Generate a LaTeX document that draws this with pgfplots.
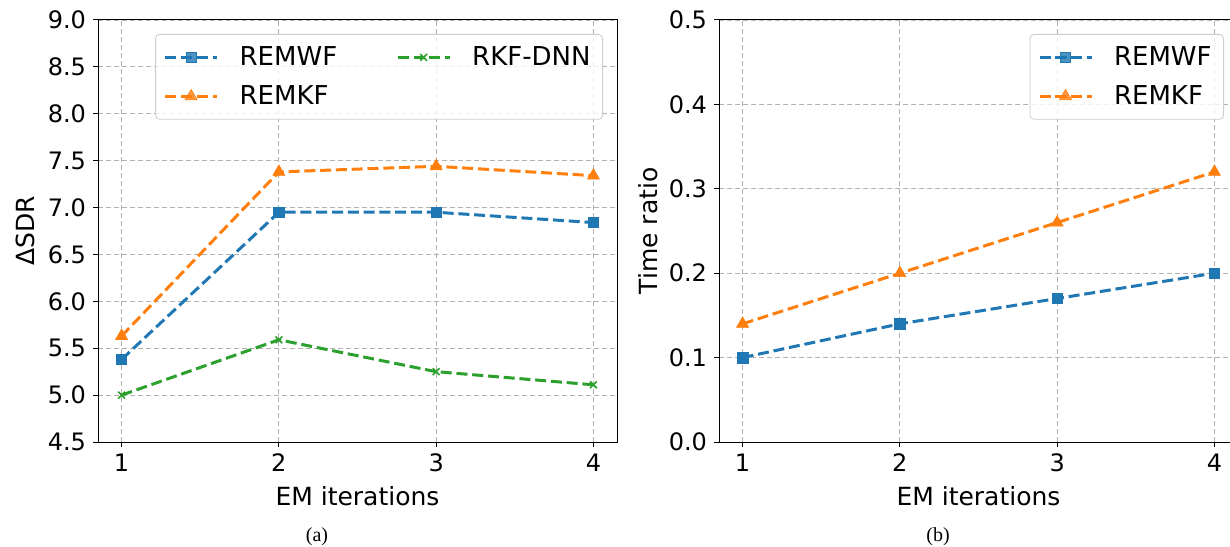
\documentclass[border=0pt]{standalone}
\usepackage{fontspec}
\setmainfont{DejaVu Sans}
\newfontfamily\capfont{Liberation Serif}
\usepackage{pgfplots}
\pgfplotsset{compat=1.18}
\definecolor{c0}{HTML}{1F77B4}
\definecolor{c1}{HTML}{FF7F0E}
\definecolor{c2}{HTML}{2CA02C}
\pgfplotsset{
  myaxis/.style={
    scale only axis, width=259.5pt, height=211pt,
    xmin=0.85, xmax=4.15, xtick={1,2,3,4},
    tick pos=left, tick align=outside, major tick length=2.5pt,
    tick style={black, line width=0.5pt},
    axis line style={black, line width=0.5pt},
    grid=major, major grid style={dashed, dash pattern=on 2.5pt off 1.5pt, color=black!30, line width=0.4pt},
    /pgf/number format/assume math mode=true,
    tick label style={font=\fontsize{12}{14}\selectfont},
    label style={font=\fontsize{12.5}{15}\selectfont},
    xlabel style={at={(axis description cs:0.5,0)}, anchor=base, yshift=-31.5pt},
    every axis plot/.append style={line width=1.5pt, dash pattern=on 5.5pt off 2.4pt},
    legend image code/.code={\draw[mark repeat=2,mark phase=2] plot coordinates {(0pt,0pt)(13pt,0pt)(26pt,0pt)};},
    legend style={at={(axis description cs:1,1)}, anchor=north east, xshift=-7pt, yshift=-7pt,
      draw=black!20, rounded corners=2pt, fill=white, fill opacity=0.8, text opacity=1,
      font=\fontsize{13}{15}\selectfont, row sep=4.5pt, inner sep=4pt,
      /tikz/every odd column/.append style={column sep=8.5pt},
      /tikz/every even column/.append style={column sep=27.5pt}},
    legend cell align=left,
  }
}
\begin{document}
\begin{tikzpicture}
\useasboundingbox (0,0) rectangle (615pt,273pt);
\begin{axis}[myaxis, at={(49pt,52pt)}, anchor=south west,
  ymin=4.5, ymax=9.0, ytick={4.5,5,5.5,6,6.5,7,7.5,8,8.5,9},
  yticklabel style={/pgf/number format/.cd, fixed, fixed zerofill, precision=1},
  xlabel={EM iterations}, ylabel={ΔSDR},
  ylabel style={at={(axis description cs:0,0.5)}, anchor=center, yshift=36.5pt},
  legend columns=2]
\addplot[color=c0, mark=square*, mark size=2.6pt, mark options={solid, line width=0.3pt, fill=c0}] coordinates {(1,5.38)(2,6.95)(3,6.95)(4,6.84)};
\addlegendentry{REMWF}
\addplot[color=c2, mark=x, mark size=2.4pt, mark options={solid, line width=0.8pt}] coordinates {(1,5.00)(2,5.59)(3,5.25)(4,5.11)};
\addlegendentry{RKF-DNN}
\addplot[color=c1, mark=triangle*, mark size=3.5pt, mark options={solid, line width=0.3pt, fill=c1}] coordinates {(1,5.63)(2,7.38)(3,7.44)(4,7.34)};
\addlegendentry{REMKF}
\end{axis}
\begin{axis}[myaxis, at={(359.5pt,52pt)}, anchor=south west,
  ymin=0, ymax=0.5, ytick={0,0.1,0.2,0.3,0.4,0.5},
  yticklabel style={/pgf/number format/.cd, fixed, fixed zerofill, precision=1},
  xlabel={EM iterations}, ylabel={Time ratio},
  ylabel style={at={(axis description cs:0,0.5)}, anchor=center, yshift=35.5pt}]
\addplot[color=c0, mark=square*, mark size=2.6pt, mark options={solid, line width=0.3pt, fill=c0}] coordinates {(1,0.10)(2,0.14)(3,0.17)(4,0.20)};
\addlegendentry{REMWF}
\addplot[color=c1, mark=triangle*, mark size=3.5pt, mark options={solid, line width=0.3pt, fill=c1}] coordinates {(1,0.14)(2,0.20)(3,0.26)(4,0.32)};
\addlegendentry{REMKF}
\end{axis}
\node[anchor=base, font=\capfont\fontsize{10}{12}\selectfont] at (158.5pt,2.5pt) {(a)};
\node[anchor=base, font=\capfont\fontsize{10}{12}\selectfont] at (469pt,2.5pt) {(b)};
\end{tikzpicture}
\end{document}
